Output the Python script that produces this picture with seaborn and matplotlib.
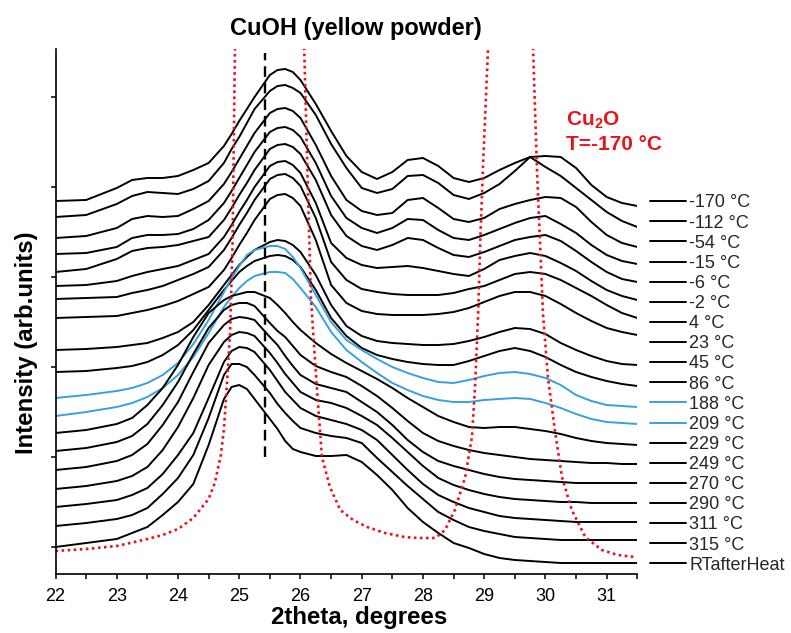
import numpy as np
import pandas as pd
import matplotlib
matplotlib.use("Agg")
import matplotlib.pyplot as plt
from matplotlib.ticker import MultipleLocator, NullFormatter
import seaborn as sns

# ---- diffraction scans (stacked, arbitrary intensity units) ----
two_theta = [22.0, 22.5, 23.0, 23.25, 23.5, 23.75, 24.0, 24.25, 24.5, 24.75,
             24.875, 25.0, 25.125, 25.25, 25.5, 25.625, 25.75, 25.875, 26.0,
             26.25, 26.5, 26.75, 27.0, 27.25, 27.5, 27.75, 28.0, 28.25, 28.5,
             28.75, 29.0, 29.25, 29.5, 29.75, 30.0, 30.25, 30.5, 30.75, 31.0,
             31.25, 31.5]

int_m170 = [346, 347, 359, 367, 369, 369, 371, 377, 384, 401,
            413, 426, 438, 450, 472, 477, 478, 475, 467,
            443, 416, 391, 375, 368, 375, 387, 389, 381, 369, 365, 369, 377, 384, 390, 391, 390, 379, 362, 350, 344, 341]
int_m112 = [330, 332, 343, 351, 355, 354, 353, 358, 366, 384,
            398, 410, 424, 438, 456, 461, 462, 459, 454,
            432, 403, 379, 359, 354, 358, 371, 372, 364, 352, 348, 354, 363, 376, 390, 380, 371, 359, 347, 335, 326, 320]
int_m54 = [309, 311, 319, 328, 331, 330, 331, 338, 346, 363,
           375, 388, 401, 414, 434, 438, 439, 436, 429,
           402, 371, 347, 336, 332, 334, 347, 349, 339, 328, 325, 329, 338, 343, 347, 350, 349, 340, 325, 312, 304, 300]
int_m15 = [293, 294, 300, 309, 312, 312, 313, 318, 327, 344,
           356, 369, 382, 395, 415, 419, 420, 417, 410,
           384, 351, 329, 319, 314, 319, 328, 327, 317, 309, 307, 312, 318, 324, 329, 331, 323, 314, 302, 292, 286, 283]
int_m6 = [275, 278, 288, 296, 299, 300, 302, 306, 310, 327,
          339, 352, 364, 377, 398, 402, 403, 400, 393,
          367, 332, 311, 301, 297, 302, 309, 307, 299, 292, 290, 295, 301, 307, 310, 312, 306, 296, 285, 275, 268, 265]
int_m2 = [261, 262, 266, 271, 275, 278, 281, 287, 293, 310,
          322, 335, 347, 360, 381, 385, 386, 382, 374,
          344, 304, 289, 282, 279, 280, 281, 279, 276, 273, 271, 278, 287, 291, 294, 291, 284, 276, 266, 257, 251, 247]
int_p4 = [248, 249, 250, 254, 257, 261, 267, 273, 280, 297,
          309, 322, 334, 347, 368, 372, 373, 369, 361,
          329, 285, 267, 258, 255, 253, 252, 252, 252, 254, 258, 261, 267, 273, 275, 273, 267, 259, 251, 242, 234, 229]
int_p23 = [229, 230, 231, 234, 237, 241, 246, 253, 260, 277,
           289, 302, 314, 327, 348, 352, 353, 349, 341,
           307, 262, 244, 236, 233, 232, 232, 232, 233, 235, 239, 245, 251, 255, 255, 251, 243, 234, 226, 219, 215, 212]
int_p45 = [197, 198, 200, 202, 204, 209, 215, 225, 242, 262,
           272, 282, 290, 297, 305, 307, 306, 302, 295,
           272, 242, 221, 211, 206, 204, 203, 202, 202, 203, 206, 210, 215, 219, 218, 213, 204, 197, 191, 186, 183, 182]
int_p86 = [175, 176, 179, 181, 185, 192, 202, 217, 237, 257,
           266, 275, 281, 286, 291, 292, 291, 287, 280,
           257, 229, 211, 199, 192, 188, 185, 183, 182, 182, 186, 191, 196, 199, 196, 190, 182, 175, 170, 166, 163, 161]
int_p188 = [149, 152, 156, 159, 164, 172, 184, 203, 227, 255,
            269, 281, 292, 297, 301, 301, 298, 290, 279,
            252, 225, 207, 197, 188, 180, 174, 169, 165, 164, 167, 171, 174, 175, 173, 169, 162, 152, 146, 142, 141, 140]
int_p209 = [131, 135, 140, 144, 150, 159, 172, 190, 214, 240,
            250, 259, 266, 271, 275, 275, 274, 268, 259,
            240, 215, 197, 185, 174, 164, 157, 151, 147, 145, 145, 147, 148, 149, 148, 144, 139, 133, 128, 125, 124, 123]
int_p229 = [114, 117, 123, 129, 142, 159, 182, 210, 234, 247,
            251, 253, 255, 255, 249, 242, 234, 225, 217,
            204, 193, 184, 176, 168, 159, 149, 140, 131, 125, 120, 119, 120, 120, 118, 116, 113, 109, 106, 104, 103, 102]
int_p249 = [96, 99, 105, 111, 123, 142, 165, 193, 219, 237,
            242, 244, 244, 241, 224, 216, 210, 201, 192,
            181, 175, 170, 161, 151, 139, 126, 114, 106, 101, 97, 94, 92, 90, 88, 87, 86, 85, 84, 84, 83, 83]
int_p270 = [77, 80, 86, 92, 103, 122, 145, 175, 204, 222,
            228, 230, 229, 227, 210, 202, 191, 181, 172,
            163, 159, 155, 145, 135, 122, 107, 95, 86, 81, 77, 73, 70, 68, 67, 66, 65, 64, 64, 64, 64, 64]
int_p290 = [58, 61, 66, 71, 80, 97, 120, 149, 182, 205,
            212, 215, 214, 211, 194, 184, 173, 164, 155,
            147, 144, 139, 131, 122, 109, 95, 81, 69, 62, 57, 53, 50, 48, 47, 46, 45, 45, 44, 44, 44, 44]
int_p311 = [40, 43, 47, 52, 59, 73, 92, 114, 149, 185,
            196, 200, 199, 195, 177, 166, 155, 147, 139,
            131, 127, 123, 117, 107, 92, 77, 63, 52, 45, 39, 35, 31, 29, 28, 27, 26, 25, 25, 25, 25, 25]
int_p315 = [21, 24, 28, 32, 39, 53, 69, 92, 129, 172,
            183, 183, 180, 172, 154, 143, 134, 126, 119,
            114, 111, 109, 104, 89, 75, 61, 48, 35, 27, 20, 16, 13, 10, 9, 8, 7, 7, 7, 7, 7, 7]
int_rt_after = [0, 4, 8, 14, 20, 32, 45, 63, 102, 148,
                160, 162, 158, 148, 128, 118, 106, 98, 95,
                91, 91, 92, 85, 72, 57, 39, 25, 14, 4, -1, -7, -11, -13, -14, -15, -16, -16, -16, -16, -16, -16]

scan_labels = ["-170 °C", "-112 °C", "-54 °C", "-15 °C", "-6 °C", "-2 °C", "4 °C", "23 °C",
               "45 °C", "86 °C", "188 °C", "209 °C", "229 °C", "249 °C", "270 °C", "290 °C",
               "311 °C", "315 °C", "RTafterHeat"]
scans = [int_m170, int_m112, int_m54, int_m15, int_m6, int_m2, int_p4, int_p23,
         int_p45, int_p86, int_p188, int_p209, int_p229, int_p249, int_p270, int_p290,
         int_p311, int_p315, int_rt_after]

# ---- Cu2O reference pattern at -170 °C (strong peaks run off the top) ----
cu2o_two_theta = [22.0, 22.5, 23.0, 23.5, 23.75, 24.0, 24.25, 24.5, 24.6, 24.7,
                  24.75, 24.8, 24.85, 24.89, 24.93, 25.48, 26.06, 26.12, 26.17, 26.21,
                  26.27, 26.35, 26.48, 26.65, 26.86, 27.09, 27.38, 27.7, 27.92, 28.2,
                  28.36, 28.52, 28.69, 28.8, 28.85, 28.9, 28.94, 28.98, 29.06, 29.43,
                  29.8, 29.86, 29.96, 30.04, 30.16, 30.27, 30.43, 30.65, 30.92, 31.18,
                  31.46]
cu2o_intensity = [-4, -2, 1, 8, 12, 18, 29, 48, 64, 92,
                  118, 164, 214, 300, 500, 2500, 500, 360, 250, 212,
                  157, 90, 60, 37, 27, 20, 14, 10, 9, 9,
                  17, 37, 70, 110, 160, 232, 314, 380, 495, 2500,
                  495, 380, 233, 170, 114, 70, 37, 10, -3, -8,
                  -10]

cuoh_peak_position = 25.42
cuoh_marker_span = (90, 494)

BLUE = "#36a2dd"
RED = "#e8141c"
scan_colors = ["black"] * 10 + [BLUE, BLUE] + ["black"] * 7

sns.set_theme(style="ticks")
plt.rcParams["font.family"] = ["Liberation Sans", "DejaVu Sans"]
plt.rcParams["mathtext.fontset"] = "custom"
plt.rcParams["mathtext.rm"] = "Liberation Sans"
plt.rcParams["mathtext.bf"] = "Liberation Sans:bold"

fig = plt.figure(figsize=(7.91, 6.33), dpi=100)
ax = fig.add_axes([0.0702, 0.0932, 0.7355, 0.8294])

df = pd.DataFrame({
    "2theta": np.tile(two_theta, len(scans)),
    "intensity": np.concatenate(scans),
    "scan": np.repeat(scan_labels, len(two_theta)),
})

sns.lineplot(data=df, x="2theta", y="intensity", hue="scan", hue_order=scan_labels,
             palette=dict(zip(scan_labels, scan_colors)), estimator=None, sort=False,
             linewidth=1.4, legend="full", ax=ax)

sns.lineplot(x=cu2o_two_theta, y=cu2o_intensity, color=RED, linewidth=1.9,
             estimator=None, sort=False, legend=False, ax=ax)
ax.lines[-1].set_linestyle((0, (1, 1.3)))

ax.vlines(cuoh_peak_position, *cuoh_marker_span, colors="black",
          linestyles=[(0, (4.5, 2.5))], linewidth=1.7, zorder=5)

ax.set_xlim(22, 31.5)
ax.set_ylim(-27, 498)
ax.xaxis.set_major_locator(MultipleLocator(1))
ax.xaxis.set_minor_locator(MultipleLocator(0.5))
ax.yaxis.set_major_locator(MultipleLocator(90))
ax.yaxis.set_major_formatter(NullFormatter())
ax.tick_params(axis="both", which="both", direction="out", length=3.5, width=1.1,
               color="black")
ax.tick_params(axis="x", labelsize=13, pad=6.5, labelcolor="black")

sns.despine(ax=ax)
for side in ("left", "bottom"):
    ax.spines[side].set_linewidth(1.2)
    ax.spines[side].set_color("black")

ax.set_xlabel("2theta, degrees", fontsize=17.3, fontweight="bold", color="black")
ax.xaxis.set_label_coords(0.5217, -0.061)
ax.set_ylabel("Intensity (arb.units)", fontsize=17.3, fontweight="bold", color="black")
ax.yaxis.set_label_coords(-0.030, 0.44)

ax.text(0.5165, 1.0267, "CuOH (yellow powder)", transform=ax.transAxes,
        ha="center", va="baseline", fontsize=17, fontweight="bold", color="black")
ax.text(0.8775, 0.855, r"Cu$_\mathbf{2}$O", transform=ax.transAxes, ha="left",
        va="baseline", fontsize=15, fontweight="bold", color=RED)
ax.text(0.8775, 0.8076, "T=-170 °C", transform=ax.transAxes, ha="left",
        va="baseline", fontsize=15, fontweight="bold", color=RED)

sns.move_legend(ax, "upper left", bbox_to_anchor=(650 / 791, 1 - 194.5 / 633),
                bbox_transform=fig.transFigure, frameon=False, title=None,
                fontsize=13, handlelength=2.0, handletextpad=0.18,
                labelspacing=0.173, borderpad=0, borderaxespad=0)

fig.savefig("out.png", dpi=100)
